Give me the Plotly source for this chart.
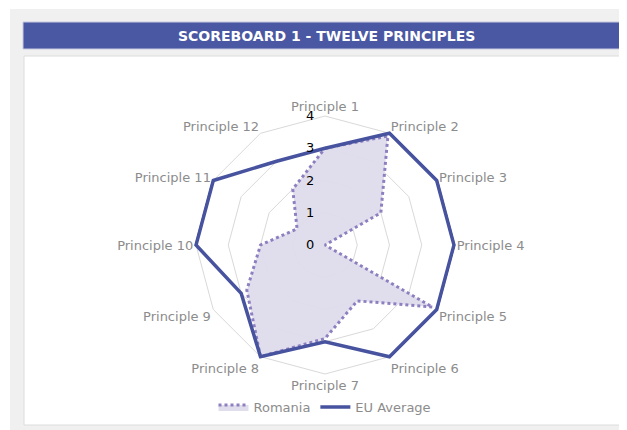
import plotly.graph_objects as go

principles = [f"Principle {i}" for i in range(1, 13)]
romania = [3.0, 3.9, 2.0, 0.0, 3.85, 2.0, 2.9, 4.0, 2.8, 2.0, 1.0, 2.0]
eu_average = [3.0, 4.0, 4.0, 4.0, 4.0, 4.0, 3.0, 4.0, 3.0, 4.0, 4.0, 3.0]
radial_ticks = [0, 1, 2, 3, 4]
radial_tick_labels = ["0", "1", "2", "3", "4"]
title_text = "SCOREBOARD 1 - TWELVE PRINCIPLES"

W, H = 627, 430
OFF = 8  # page body margin
FONT = "DejaVu Sans"
BLUE = "#47539f"
PURPLE = "#8e80c0"
RMAX = 4.07


def px(x):
    return (x - OFF) / W


def py(y):
    return 1 - (y - OFF) / H


theta = principles + principles[:1]

fig = go.Figure()
fig.add_trace(go.Scatterpolar(
    r=romania + romania[:1], theta=theta, name="Romania",
    mode="lines", line=dict(color=PURPLE, width=3, dash="dot"),
    fill="toself", fillcolor="rgba(222,220,236,0.95)", cliponaxis=False,
))
fig.add_trace(go.Scatterpolar(
    r=eu_average + eu_average[:1], theta=theta, name="EU Average",
    mode="lines", line=dict(color=BLUE, width=3.5), cliponaxis=False,
))

cx, cy = 325, 245
R = 129 * RMAX / 4
fig.update_layout(
    width=W, height=H,
    margin=dict(l=0, r=0, t=0, b=0),
    paper_bgcolor="white",
    font=dict(family=FONT, size=13, color="#888888"),
    polar=dict(
        domain=dict(x=[px(cx - R), px(cx + R)], y=[py(cy + R), py(cy - R)]),
        bgcolor="rgba(0,0,0,0)",
        gridshape="linear",
        radialaxis=dict(
            range=[0, RMAX], tickvals=radial_ticks,
            ticktext=[t + "\u00a0\u00a0" for t in radial_tick_labels],
            angle=90, tickangle=90, side="counterclockwise",
            showline=False, ticks="", gridcolor="#d9d9d9", gridwidth=1,
            tickfont=dict(family=FONT, size=13, color="#000000"),
        ),
        angularaxis=dict(
            rotation=90, direction="clockwise", showgrid=False,
            showline=False, ticks="",
            tickfont=dict(family=FONT, size=13, color="#8c8c8c"),
        ),
    ),
    showlegend=True,
    legend=dict(
        orientation="h", x=px(325), xanchor="center", y=py(407), yanchor="middle",
        font=dict(family=FONT, size=13, color="#8c8c8c"),
        bgcolor="rgba(0,0,0,0)", itemwidth=30, tracegroupgap=0,
    ),
    shapes=[
        dict(type="rect", xref="paper", yref="paper", x0=px(10), x1=1, y0=py(440), y1=py(9),
             fillcolor="#f0f0f0", line=dict(width=0), layer="below"),
        dict(type="rect", xref="paper", yref="paper", x0=px(23), x1=1, y0=py(49), y1=py(22),
             fillcolor="#4a57a2", line=dict(color="#c8cbe0", width=1), layer="below"),
        dict(type="rect", xref="paper", yref="paper", x0=px(24), x1=px(624), y0=py(425), y1=py(56),
             fillcolor="white", line=dict(color="#dcdcdc", width=1), layer="below"),
    ],
    annotations=[
        dict(text=f"<b>{title_text}</b>", xref="paper", yref="paper", x=px(326), y=py(36),
             xanchor="center", yanchor="middle", showarrow=False,
             font=dict(family=FONT, size=14, color="white")),
    ],
)

fig.write_html("out.html")
